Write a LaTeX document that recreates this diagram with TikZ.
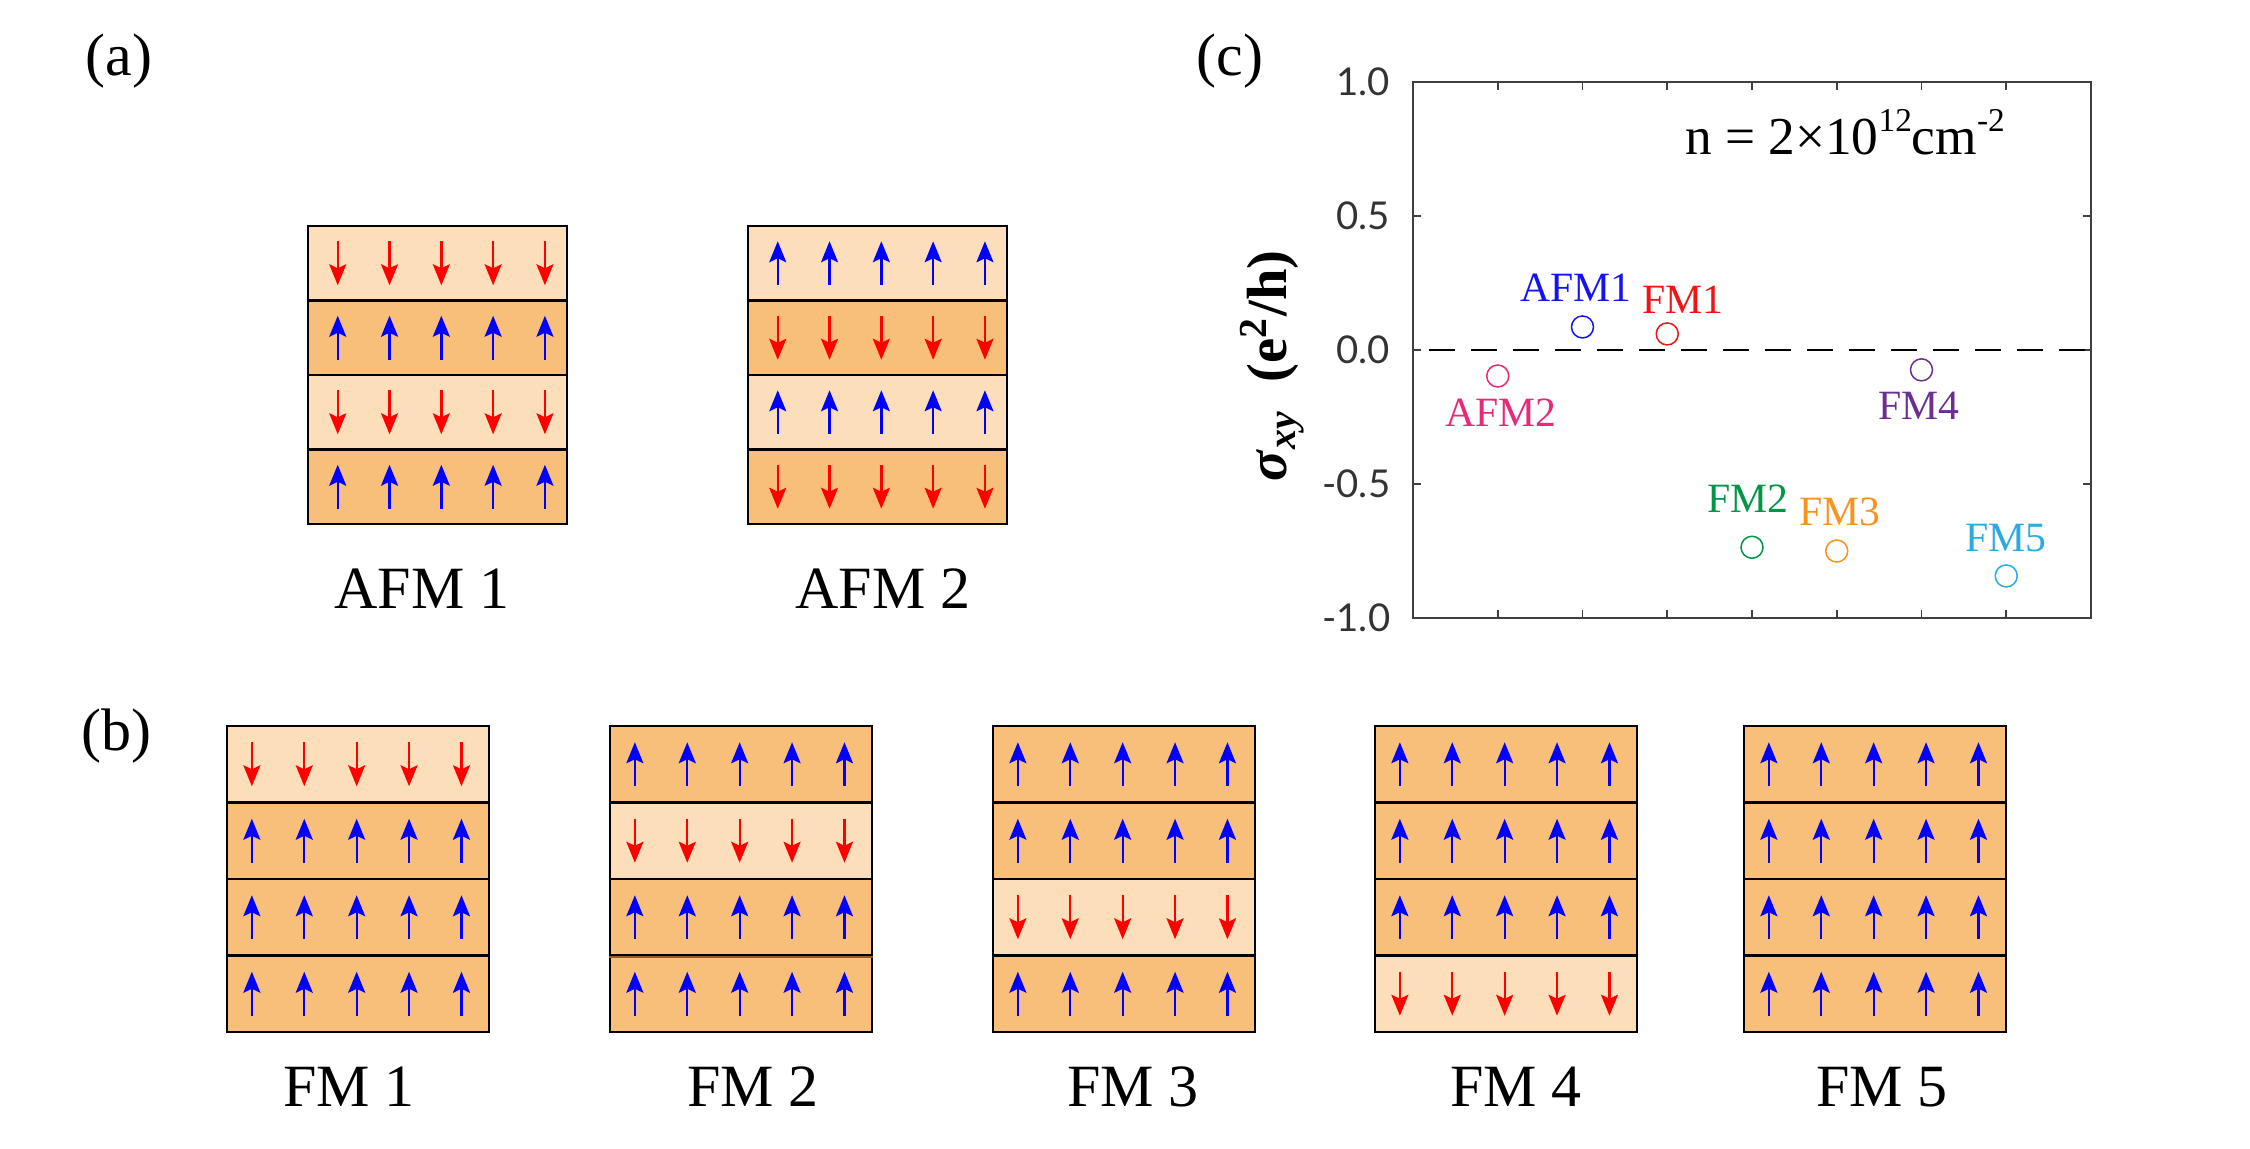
\documentclass[tikz,border=0pt]{standalone}
\usepackage{fontspec}
\setmainfont{Liberation Serif}
\newfontfamily\ticksfont{Lato}
\usetikzlibrary{positioning,arrows.meta,calc}
\definecolor{layerpale}{RGB}{252,222,187}
\definecolor{layertan}{RGB}{248,191,122}
\definecolor{spinred}{RGB}{255,0,0}
\definecolor{spinblue}{RGB}{0,0,255}
\definecolor{seam}{RGB}{150,90,40}
\definecolor{cafmone}{RGB}{20,20,240}
\definecolor{cafmtwo}{RGB}{233,40,120}
\definecolor{cfmone}{RGB}{240,20,20}
\definecolor{cfmtwo}{RGB}{0,150,70}
\definecolor{cfmthree}{RGB}{247,147,30}
\definecolor{cfmfour}{RGB}{110,45,145}
\definecolor{cfmfive}{RGB}{41,171,226}
\tikzset{
    layer/.style = {
        draw,
        shape=rectangle,
        inner sep=0pt,
        line width=0.8pt
    },
    spindn/.style = {
        draw=spinred,
        line width=0.7pt,
        -{Stealth[length=6.3pt,width=5.1pt,inset=1.2pt]}
    },
    spinup/.style = {
        draw=spinblue,
        line width=0.7pt,
        {Stealth[length=6.3pt,width=5.1pt,inset=1.2pt]}-
    },
    caption/.style = {
        font=\fontsize{18}{22}\selectfont,
        anchor=base
    },
    frame/.style = {
        draw=black!75,
        line width=0.5pt
    },
    zeroline/.style = {
        draw=black,
        line width=0.6pt,
        dash pattern=on 7.8pt off 4.8pt,
        dash phase=7.8pt
    },
    datum/.style = {
        draw,
        shape=circle,
        minimum size=6.6pt,
        inner sep=0pt,
        line width=0.45pt
    },
    datalabel/.style = {
        font=\fontsize{12.5}{14}\selectfont
    },
    ticklabel/.style = {
        font=\ticksfont\fontsize{11.5}{13}\selectfont,
        text=black!80,
        anchor=east,
        xshift=-3.3pt
    },
}

\begin{document}
\begin{tikzpicture}[x=0.3pt,y=-0.3pt]
    \useasboundingbox (0,0) rectangle (2250,1148);

    % layered stacks
    \foreach \blk/\bx/\by/\bw/\bh/\foff/\spins in {
        afma/308/226/259/74.5/0.12/{dn/layerpale,up/layertan,dn/layerpale,up/layertan},
        afmb/748/226/259/74.5/0.12/{up/layerpale,dn/layertan,up/layerpale,dn/layertan},
        fma/227/726/262/76.5/0.10/{dn/layerpale,up/layertan,up/layertan,up/layertan},
        fmb/610/726/262/76.5/0.10/{up/layertan,dn/layerpale,up/layertan,up/layertan},
        fmc/993/726/262/76.5/0.10/{up/layertan,up/layertan,dn/layerpale,up/layertan},
        fmd/1375/726/262/76.5/0.10/{up/layertan,up/layertan,up/layertan,dn/layerpale},
        fme/1744/726/262/76.5/0.10/{up/layertan,up/layertan,up/layertan,up/layertan}}{
        \foreach \s/\f [count=\k] in \spins {
            \node[layer, fill=\f, minimum width=\bw*0.3pt, minimum height=\bh*0.3pt]
                (\blk-\k) at (\bx+\bw/2, \by+\bh*\k-\bh/2) {};
            \foreach \i in {0,...,4}
                \draw[spin\s] ($(\blk-\k.west)+(\bw*\foff+\bw*0.2*\i,-22)$) -- ++(0,44);
        }
    }
    \draw[seam, line width=0.8pt] (fmb-3.south west) -- (fmb-3.south east);

    \node[caption] (afmacap) at (422,608) {AFM 1};
    \node[caption] (afmbcap) at (883,608) {AFM 2};
    \node[caption] (fmacap) at (349,1106) {FM 1};
    \node[caption] (fmbcap) at (753,1106) {FM 2};
    \node[caption] (fmccap) at (1133,1106) {FM 3};
    \node[caption] (fmdcap) at (1516,1106) {FM 4};
    \node[caption] (fmecap) at (1882,1106) {FM 5};

    \node[caption] (panela) at (119,75) {(a)};
    \node[caption] (panelb) at (116,750) {(b)};
    \node[caption] (panelc) at (1230,75) {(c)};

    % Hall conductivity plot
    \node[rotate=90, font=\bfseries\fontsize{17}{20}\selectfont] (ylabel) at (1272,366)
        {\textit{σ}\textsubscript{\textit{xy}}\ \ (e\textsuperscript{2}/h)};
    \begin{scope}[shift={(1413,350)}, x=25.425pt, y=80.4pt]
        \draw[frame] (0,-1) rectangle (8,1);
        \foreach \t in {1,...,7} {
            \draw[frame] (\t,-1) -- ++(0,0.03);
            \draw[frame] (\t,1) -- ++(0,-0.03);
        }
        \foreach \v in {-0.5,0,0.5} {
            \draw[frame] (0,\v) -- ++(0.1,0);
            \draw[frame] (8,\v) -- ++(-0.1,0);
        }
        \foreach \lab/\v [count=\i] in {1.0/1,0.5/0.5,0.0/0,-0.5/-0.5,-1.0/-1}
            \node[ticklabel] (ytick\i) at (0,\v) {\lab};
        \draw[zeroline] (0,0) -- (8,0);

        \node[datum, draw=cafmtwo] (pafmb) at (1,-0.097) {};
        \node[datum, draw=cafmone] (pafma) at (2,0.086) {};
        \node[datum, draw=cfmone] (pfma) at (3,0.06) {};
        \node[datum, draw=cfmtwo] (pfmb) at (4,-0.736) {};
        \node[datum, draw=cfmthree] (pfmc) at (5,-0.75) {};
        \node[datum, draw=cfmfour] (pfmd) at (6,-0.074) {};
        \node[datum, draw=cfmfive] (pfme) at (7,-0.843) {};

        \node[datalabel, text=cafmone] (lafma) at (1.923,0.231) {AFM1};
        \node[datalabel, text=cfmone] (lfma) at (3.186,0.187) {FM1};
        \node[datalabel, text=cafmtwo] (lafmb) at (1.038,-0.235) {AFM2};
        \node[datalabel, text=cfmfour] (lfmd) at (5.97,-0.209) {FM4};
        \node[datalabel, text=cfmtwo] (lfmb) at (3.953,-0.556) {FM2};
        \node[datalabel, text=cfmthree] (lfmc) at (5.038,-0.604) {FM3};
        \node[datalabel, text=cfmfive] (lfme) at (6.997,-0.701) {FM5};

        \node[font=\fontsize{16}{19}\selectfont, anchor=base] (density) at (5.097,0.731)
            {n = 2×10\raisebox{0.42em}{\fontsize{10}{12}\selectfont 12}cm\raisebox{0.42em}{\fontsize{10}{12}\selectfont -2}};
    \end{scope}
\end{tikzpicture}
\end{document}
